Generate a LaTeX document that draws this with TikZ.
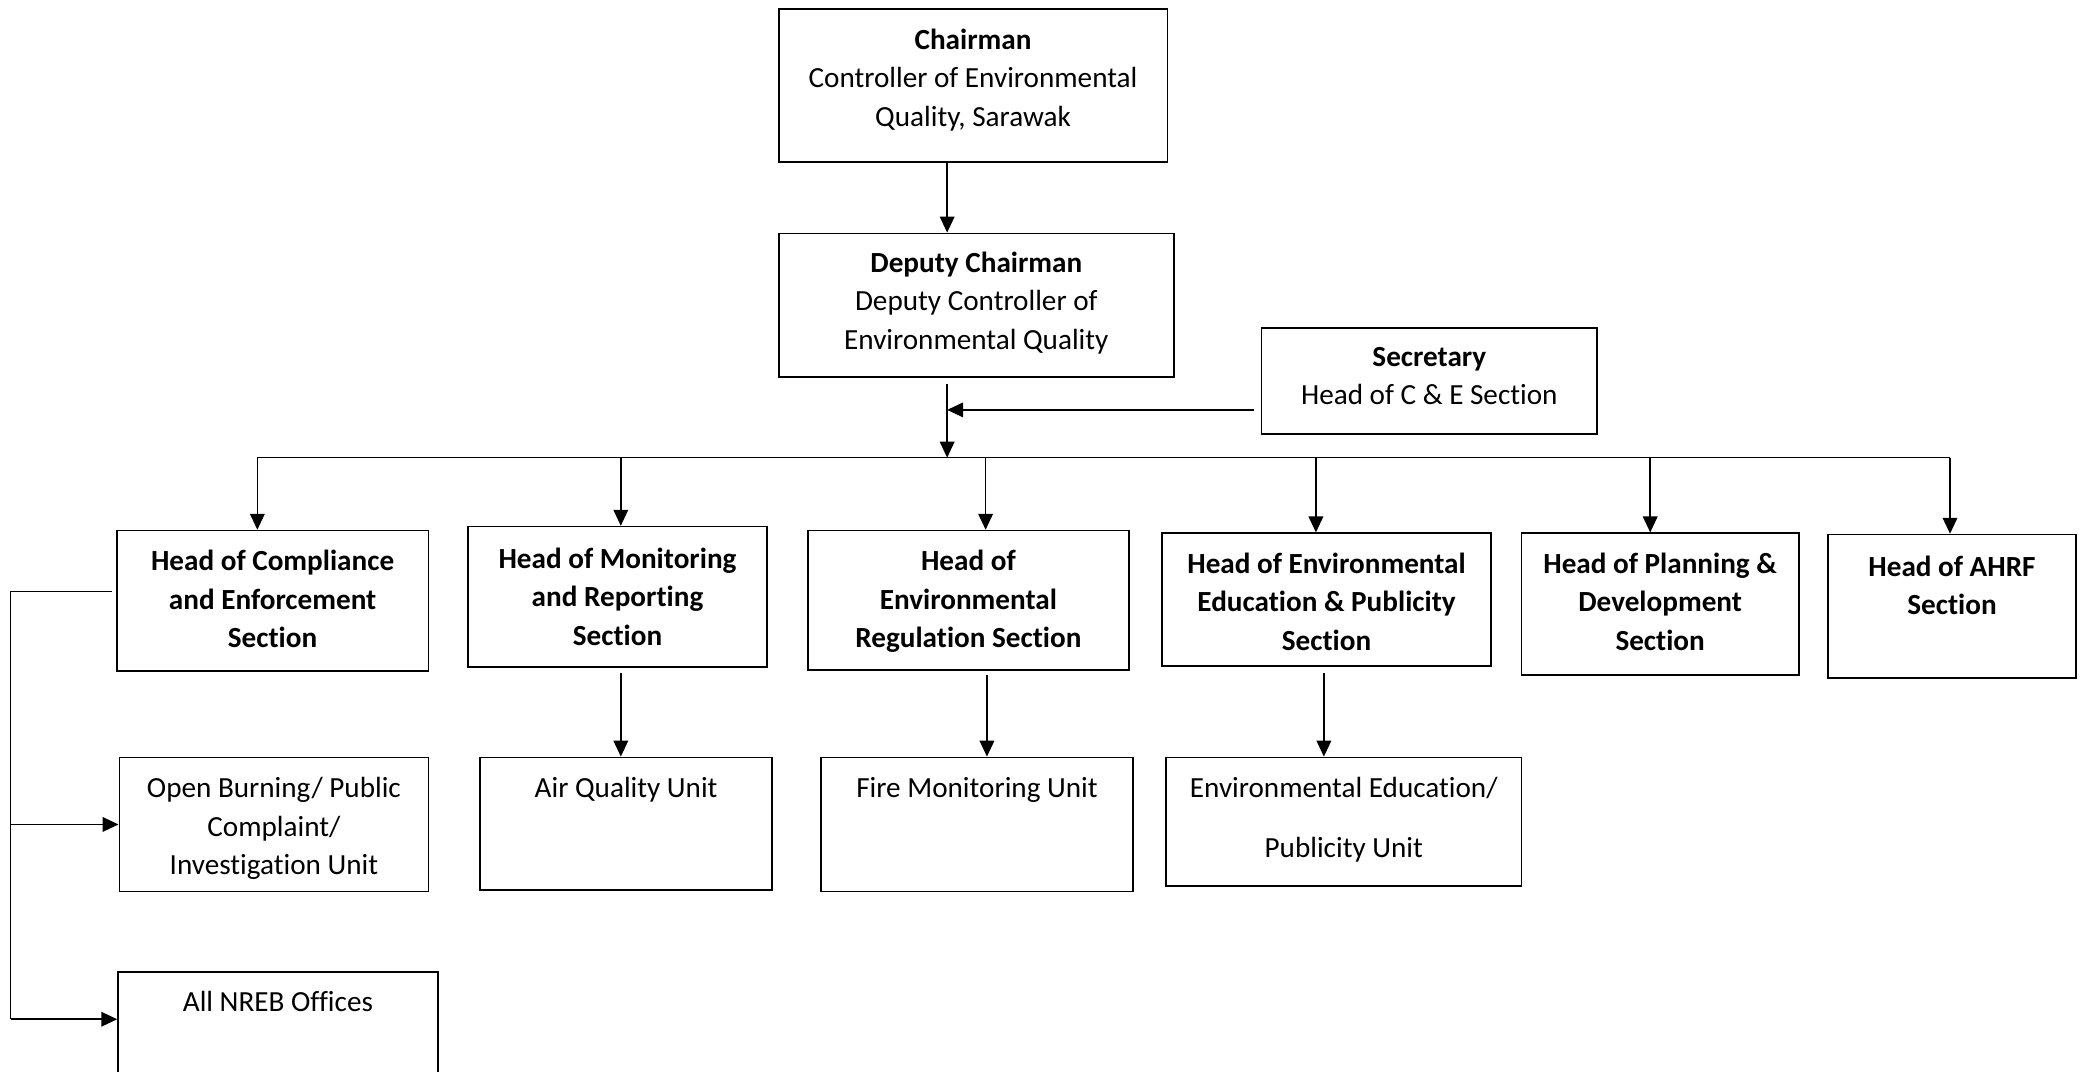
\documentclass[tikz,border=0pt]{standalone}
\usepackage{fontspec}
\setmainfont{Carlito}[Ligatures=NoCommon]
\usetikzlibrary{arrows.meta,calc}

\tikzset{
  box/.style={draw, line width=0.65pt, inner sep=0pt},
  txt/.style={anchor=north, inner sep=0pt, align=center, font=\fontsize{11}{14.5}\selectfont},
  arr/.style={line width=0.6pt, -{Triangle[length=6pt,width=5.5pt]}},
  ln/.style={line width=0.6pt},
}

% name, x1, y1, x2, y2, first-line offset, text
\newcommand\orgbox[7]{%
  \node[box, minimum width={(#4-#2)*0.5pt}, minimum height={(#5-#3)*0.5pt}] (#1) at ({(#2+#4)/2},{(#3+#5)/2}) {};
  \node[txt] (#1-t) at ($(#1.north)+(0,#6-8.5)$) {\rule{0pt}{8pt}#7};
}

\begin{document}
\begin{tikzpicture}[x=0.5pt, y=-0.5pt]
\fill[white] (0,0) rectangle (1568,808);
\clip (0,0) rectangle (1568,808);

% top levels
\orgbox{chair}{587}{7}{880}{122}{23}{\textbf{Chairman}\\Controller of Environmental\\Quality, Sarawak}
\orgbox{deputy}{587}{176}{885}{284}{22}{\textbf{Deputy Chairman}\\Deputy Controller of\\Environmental Quality}
\orgbox{sec}{951}{247}{1204}{327}{22}{\textbf{Secretary}\\Head of C \& E Section}

% heads of section
\orgbox{h1}{88}{400}{323}{506}{23}{\textbf{Head of Compliance}\\\textbf{and Enforcement}\\\textbf{Section}}
\orgbox{h2}{353}{397}{578}{503}{24}{\textbf{Head of Monitoring}\\\textbf{and Reporting}\\\textbf{Section}}
\orgbox{h3}{609}{400}{851}{505}{23}{\textbf{Head of}\\\textbf{Environmental}\\\textbf{Regulation Section}}
\orgbox{h4}{876}{402}{1124}{502}{23}{\textbf{Head of Environmental}\\\textbf{Education \& Publicity}\\\textbf{Section}}
\orgbox{h5}{1147}{402}{1356}{509}{23}{\textbf{Head of Planning \&}\\\textbf{Development}\\\textbf{Section}}
\orgbox{h6}{1378}{403}{1565}{511}{24}{\textbf{Head of AHRF}\\\textbf{Section}}

% units
\orgbox{o7}{90}{571}{323}{672}{23}{Open Burning/ Public\\Complaint/\\Investigation Unit}
\orgbox{o8}{89}{733}{330}{840}{22}{All NREB Offices}
\orgbox{a9}{362}{571}{582}{671}{23}{Air Quality Unit}
\orgbox{f10}{619}{571}{854}{672}{23}{Fire Monitoring Unit}
\orgbox{e11}{879}{571}{1147}{668}{23}{Environmental Education/\\[8pt]Publicity Unit}

% spine
\coordinate (spine) at (714,0);
\draw[arr] (chair.south -| spine) -- (deputy.north -| spine);
\coordinate (busL) at (194,345);
\coordinate (busR) at (1470,345);
\draw[ln] (busL) -- (busR);
\draw[arr] ($(deputy.south -| spine)+(0,5)$) -- (spine |- busL);
\draw[arr] ($(sec.west)+(-5,22)$) coordinate (s0) -- (s0 -| spine);

% drops to heads
\coordinate (d1) at (194,345);
\coordinate (d2) at (468,345);
\coordinate (d3) at (743,345);
\coordinate (d4) at (992,345);
\coordinate (d5) at (1244,345);
\coordinate (d6) at (1470,345);
\draw[arr] (d1) -- (d1 |- h1.north);
\draw[arr] (d2) -- (d2 |- h2.north);
\draw[arr] (d3) -- (d3 |- h3.north);
\draw[arr] (d4) -- (d4 |- h4.north);
\draw[arr] (d5) -- (d5 |- h5.north);
\draw[arr] (d6) -- (d6 |- h6.north);

% drops to units
\coordinate (u2) at (468,0);
\coordinate (u3) at (744,0);
\coordinate (u4) at (998,0);
\draw[arr] ($(h2.south -| u2)+(0,4)$) -- (u2 |- a9.north);
\draw[arr] ($(h3.south -| u3)+(0,3)$) -- (u3 |- f10.north);
\draw[arr] ($(h4.south -| u4)+(0,5)$) -- (u4 |- e11.north);

% left bracket
\coordinate (lx) at (8,0);
\coordinate (o8a) at ($(o8.north west)+(0,36)$);
\draw[ln] ($(h1.west)+(-3,-7)$) coordinate (l0) -- (l0 -| lx) -- (lx |- o8a);
\draw[arr] (lx |- o7.west) -- (o7.west);
\draw[arr] (lx |- o8a) -- (o8a);
\end{tikzpicture}
\end{document}
